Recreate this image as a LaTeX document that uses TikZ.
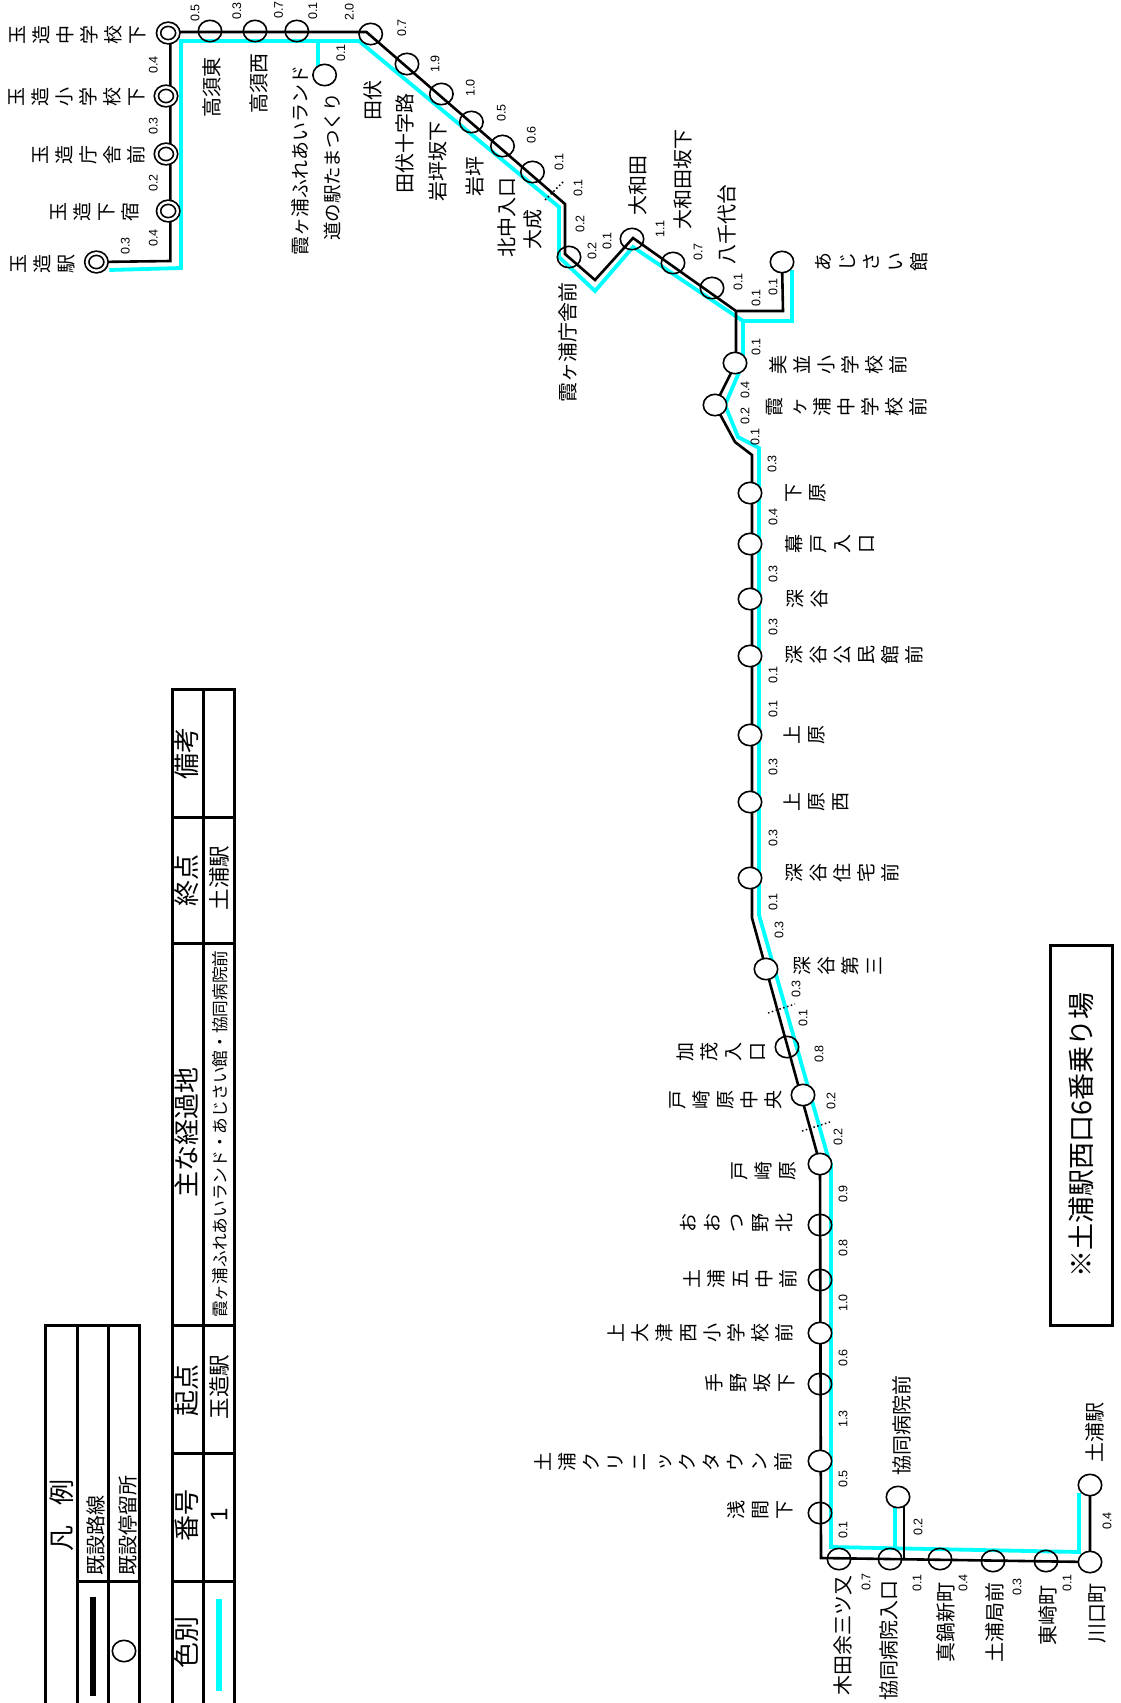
\documentclass[tikz,border=0pt]{standalone}
\usepackage{fontspec}
\setmainfont{Noto Sans CJK JP}
\newfontfamily\numfont{Liberation Sans}
\usetikzlibrary{backgrounds,shapes.geometric}
\definecolor{routecyan}{RGB}{0,255,255}

\begin{document}
\begin{tikzpicture}
[x=1pt, y=-1pt,
stop/.style={ellipse, draw, line width=1.6pt, minimum width=23.4pt, minimum height=21.4pt, inner sep=0pt, outer sep=0pt},
stopw/.style={stop, fill=white},
stopd/.style={ellipse, draw, fill=white, double, line width=1.7pt, double distance=2.4pt, minimum width=19.2pt, minimum height=17.5pt, inner sep=0pt, outer sep=0pt},
stopname/.style={rotate=90, inner sep=0pt, font=\fontsize{20}{22}\selectfont},
widelabel/.style={rotate=90, align=center, inner sep=0pt, font=\fontsize{19}{24}\selectfont},
dist/.style={rotate=90, inner sep=0pt, font=\numfont\fontsize{12.5}{14}\selectfont},
head/.style={rotate=90, inner sep=0pt, font=\fontsize{26}{28}\selectfont},
blackline/.style={line width=2.6pt, line join=miter},
cyanline/.style={line width=3.8pt, color=routecyan, line join=miter},
tick/.style={line width=1.5pt, dash pattern=on 1.5pt off 2.5pt},
rule/.style={line width=3pt, line cap=rect}]
\useasboundingbox (0,0) rectangle (1120,1703);

% stops
\node[stopd] (s1) at (96.4,262) {};
\node[stopd] (s2) at (168.2,211) {};
\node[stopd] (s3) at (166,154) {};
\node[stopd] (s4) at (166,96) {};
\node[stopd] (s5) at (168.2,33) {};
\node[stop] (s6) at (210,31) {};
\node[stop] (s7) at (255,31) {};
\node[stop] (s8) at (296.8,31) {};
\node[stopw] (michi) at (324.6,75) {};
\node[stop] (s9) at (370.7,34) {};
\node[stop] (s10) at (407,64) {};
\node[stop] (s11) at (441.4,94) {};
\node[stop] (s12) at (471.4,122) {};
\node[stop] (s13) at (502.5,146) {};
\node[stop] (s14) at (532.5,172) {};
\node[stop] (s15) at (569,257) {};
\node[stop] (s16) at (632,239) {};
\node[stop] (s17) at (673,263) {};
\node[stop] (s18) at (712,288) {};
\node[stopw] (ajisai) at (782,262) {};
\node[stopw] (s19) at (735,363) {};
\node[stopw] (s20) at (715,405) {};
\node[stopw] (s21) at (750,493) {};
\node[stopw] (s22) at (750,544) {};
\node[stopw] (s23) at (750,599) {};
\node[stopw] (s24) at (750,656) {};
\node[stopw] (s25) at (750,735) {};
\node[stopw] (s26) at (750,802) {};
\node[stopw] (s27) at (750,878) {};
\node[stopw] (s28) at (766,969) {};
\node[stop] (s29) at (787,1047) {};
\node[stopw] (s30) at (803,1095) {};
\node[stopw] (s31) at (820,1164) {};
\node[stop] (s32) at (820,1225) {};
\node[stop] (s33) at (820,1280) {};
\node[stopw] (s34) at (820,1333) {};
\node[stop] (s35) at (820,1384) {};
\node[stopw] (s36) at (820,1461) {};
\node[stop] (s37) at (820,1513) {};
\node[stop] (s38) at (839,1559) {};
\node[stop] (s39) at (890,1559) {};
\node[stopw] (kyodo) at (898,1497) {};
\node[stop] (s40) at (940,1559) {};
\node[stop] (s41) at (993,1561) {};
\node[stop] (s42) at (1046,1561) {};
\node[stopw] (s43) at (1090,1562) {};
\node[stopw] (s44) at (1090,1485) {};

% stop names
\node[widelabel] (n1) at (42.9,264) {玉\\造\\駅};
\node[widelabel] (n2) at (95.4,212) {玉\\造\\下\\宿};
\node[widelabel] (n3) at (88.9,155) {玉\\造\\庁\\舎\\前};
\node[widelabel] (n4) at (77.1,97) {玉\\造\\小\\学\\校\\下};
\node[widelabel] (n5) at (78.2,35) {玉\\造\\中\\学\\校\\下};
\node[stopname] (n6) at (212,87) {高須東};
\node[stopname] (n7) at (259.3,83) {高須西};
\node[stopname, font=\fontsize{19}{22}\selectfont] (n8) at (300,160) {霞ヶ浦ふれあいランド};
\node[stopname, font=\fontsize{18.5}{22}\selectfont] (n9) at (333,167) {道の駅たまつくり};
\node[stopname] (n10) at (373,100) {田伏};
\node[stopname] (n11) at (405,143) {田伏十字路};
\node[stopname] (n12) at (438,161) {岩坪坂下};
\node[stopname] (n13) at (474.6,176) {岩坪};
\node[stopname] (n14) at (506.8,217) {北中入口};
\node[stopname] (n15) at (532.5,229) {大成};
\node[stopname] (n16) at (568,342) {霞ヶ浦庁舎前};
\node[stopname] (n17) at (638,185) {大和田};
\node[stopname] (n18) at (683,179) {大和田坂下};
\node[stopname] (n19) at (727,224) {八千代台};
\node[widelabel] (n20) at (872,262) {あ\\じ\\さ\\い\\館};
\node[widelabel] (n21) at (838,365) {美\\並\\小\\学\\校\\前};
\node[widelabel] (n22) at (847,407) {霞\\ヶ\\浦\\中\\学\\校\\前};
\node[widelabel] (n23) at (806,493) {下\\原};
\node[widelabel] (n24) at (830,544) {幕\\戸\\入\\口};
\node[widelabel] (n25) at (807,599) {深\\谷};
\node[widelabel] (n26) at (854,655) {深\\谷\\公\\民\\館\\前};
\node[widelabel] (n27) at (804,735) {上\\原};
\node[widelabel] (n28) at (816,802) {上\\原\\西};
\node[widelabel] (n29) at (842,873) {深\\谷\\住\\宅\\前};
\node[widelabel] (n30) at (838,966) {深\\谷\\第\\三};
\node[widelabel] (n31) at (721,1052) {加\\茂\\入\\口};
\node[widelabel] (n32) at (726,1100) {戸\\崎\\原\\中\\央};
\node[widelabel] (n33) at (764,1171) {戸\\崎\\原};
\node[widelabel] (n34) at (737,1223) {お\\お\\つ\\野\\北};
\node[widelabel] (n35) at (740,1279) {土\\浦\\五\\中\\前};
\node[widelabel] (n36) at (700,1333) {上\\大\\津\\西\\小\\学\\校\\前};
\node[widelabel] (n37) at (750,1383) {手\\野\\坂\\下};
\node[widelabel] (n38) at (663,1462) {土\\浦\\ク\\リ\\ニ\\ッ\\ク\\タ\\ウ\\ン\\前};
\node[widelabel] (n39) at (760,1510) {浅\\間\\下};
\node[stopname] (n40) at (902,1425) {協同病院前};
\node[stopname] (n41) at (1095,1432) {土浦駅};
\node[stopname] (n42) at (843,1635) {木田余三ツ又};
\node[stopname] (n43) at (889,1640) {協同病院入口};
\node[stopname] (n44) at (946,1622) {真鍋新町};
\node[stopname] (n45) at (995,1622) {土浦局前};
\node[stopname] (n46) at (1048,1615) {東崎町};
\node[stopname] (n47) at (1097,1613) {川口町};

% distances
\node[dist] (d1) at (125.4,246) {0.3};
\node[dist] (d2) at (153.2,238) {0.4};
\node[dist] (d3) at (153.2,183) {0.2};
\node[dist] (d4) at (153.2,126) {0.3};
\node[dist] (d5) at (153.2,65) {0.4};
\node[dist] (d6) at (195,13) {0.5};
\node[dist] (d7) at (236.8,11) {0.3};
\node[dist] (d8) at (278.6,10) {0.7};
\node[dist] (d9) at (312.9,11) {0.1};
\node[dist] (d10) at (349.3,12) {2.0};
\node[dist] (d11) at (340.7,53) {0.1};
\node[dist] (d12) at (401.8,28) {0.7};
\node[dist] (d13) at (435,64) {1.9};
\node[dist] (d14) at (470.3,88) {1.0};
\node[dist] (d15) at (501.4,113) {0.5};
\node[dist] (d16) at (531.4,135) {0.6};
\node[dist] (d17) at (559,162) {0.1};
\node[dist] (d18) at (578,188) {0.1};
\node[dist] (d19) at (580,224) {0.2};
\node[dist] (d20) at (592,251) {0.2};
\node[dist] (d21) at (607,241) {0.1};
\node[dist] (d22) at (660,229) {1.1};
\node[dist] (d23) at (698,252) {0.7};
\node[dist] (d24) at (738,282) {0.1};
\node[dist] (d25) at (756,298) {0.1};
\node[dist] (d26) at (773,287) {0.1};
\node[dist] (d27) at (756,347) {0.1};
\node[dist] (d28) at (745,390) {0.4};
\node[dist] (d29) at (745,416) {0.2};
\node[dist] (d30) at (755,437) {0.1};
\node[dist] (d31) at (772,464) {0.3};
\node[dist] (d32) at (773,517) {0.4};
\node[dist] (d33) at (773,574) {0.3};
\node[dist] (d34) at (773,627) {0.3};
\node[dist] (d35) at (773,675) {0.1};
\node[dist] (d36) at (773,709) {0.1};
\node[dist] (d37) at (773,767) {0.3};
\node[dist] (d38) at (773,838) {0.3};
\node[dist] (d39) at (773,902) {0.1};
\node[dist] (d40) at (779,930) {0.3};
\node[dist] (d41) at (796,989) {0.3};
\node[dist] (d42) at (803,1018) {0.1};
\node[dist] (d43) at (819,1054) {0.8};
\node[dist] (d44) at (831,1101) {0.2};
\node[dist] (d45) at (838,1137) {0.2};
\node[dist] (d46) at (843,1194) {0.9};
\node[dist] (d47) at (843,1248) {0.8};
\node[dist] (d48) at (843,1303) {1.0};
\node[dist] (d49) at (843,1358) {0.6};
\node[dist] (d50) at (843,1419) {1.3};
\node[dist] (d51) at (843,1479) {0.5};
\node[dist] (d52) at (843,1530) {0.1};
\node[dist] (d53) at (918,1527) {0.2};
\node[dist] (d54) at (1107,1521) {0.4};
\node[dist] (d55) at (866,1582) {0.7};
\node[dist] (d56) at (917,1583) {0.1};
\node[dist] (d57) at (963,1583) {0.4};
\node[dist] (d58) at (1017,1587) {0.3};
\node[dist] (d59) at (1067,1583) {0.1};

% bends of the black line
\coordinate (b1) at (170.4,261);
\coordinate (b2) at (170.4,32);
\coordinate (b3) at (366.4,32);
\coordinate (b4) at (565,204);
\coordinate (b5) at (565,254);
\coordinate (b6) at (595,280);
\coordinate (b7) at (633,238);
\coordinate (b8) at (736,311);
\coordinate (b9) at (783,311);
\coordinate (b10) at (736,363);
\coordinate (b11) at (735,442);
\coordinate (b12) at (752,455);
\coordinate (b13) at (752,918);
\coordinate (b14) at (821,1558);
\coordinate (b15) at (904,1559);

% bends of the cyan line
\coordinate (c0) at (109.3,270);
\coordinate (c1) at (181,268);
\coordinate (c2) at (181,41);
\coordinate (c3) at (359,41);
\coordinate (c4) at (559,207);
\coordinate (c5) at (559,257);
\coordinate (c6) at (595,291);
\coordinate (c7) at (633,247);
\coordinate (c8) at (737,317);
\coordinate (c9) at (743,321);
\coordinate (c10) at (792,321);
\coordinate (c11) at (792,270);
\coordinate (c12) at (743,363);
\coordinate (c13) at (725,405);
\coordinate (c14) at (738,437);
\coordinate (c15) at (759,448);
\coordinate (c16) at (759,915);
\coordinate (c17) at (828,1157);
\coordinate (c18) at (831,1164);
\coordinate (c19) at (831,1547);
\coordinate (c20) at (1079,1552);
\coordinate (c21) at (1079,1493);
\coordinate (c22) at (318,41);
\coordinate (c23) at (895,1548);

\begin{scope}[on background layer]
\draw[cyanline] (c0) -- (c1) -- (c2) -- (c3) -- (c4) -- (c5) -- (c6) -- (c7) -- (c8) -- (c9) -- (c10) -- (c11);
\draw[cyanline] (c9) -- (c12) -- (c13) -- (c14) -- (c15) -- (c16) -- (c17) -- (c18) -- (c19) -- (c20) -- (c21);
\draw[cyanline] (c22) -- (michi.center -| c22);
\draw[cyanline] (c23) -- (kyodo.center -| c23);
\draw[blackline] (s1.center) -- (b1) -- (b2) -- (b3) -- (b4) -- (b5) -- (b6) -- (b7) -- (b8) -- (b9) -- (ajisai.center);
\draw[blackline] (b8) -- (b10) -- (s20.center) -- (b11) -- (b12) -- (b13) -- (s31.center) -- (b14) -- (s43.center) -- (s44.center);
\draw[blackline] (b15) -- (kyodo.center -| b15);
\end{scope}

% transfer marks
\coordinate (t1a) at (545,200);
\coordinate (t1b) at (563,182);
\coordinate (t2a) at (768,1013);
\coordinate (t2b) at (795,1004);
\coordinate (t3a) at (802,1131);
\coordinate (t3b) at (830,1122);
\draw[tick] (t1a) -- (t1b);
\draw[tick] (t2a) -- (t2b);
\draw[tick] (t3a) -- (t3b);

% legend
\draw[rule] (45,1703) -- (45,1325) -- (139.5,1325) -- (139.5,1703);
\draw[rule] (77.5,1325) -- (77.5,1703);
\draw[rule] (108.5,1325) -- (108.5,1703);
\draw[rule] (77.5,1581) -- (139.5,1581);
\node[head] (lg) at (62,1515) {凡\hspace{20pt}例};
\node[stopname] (lg1) at (96,1535) {既設路線};
\node[stopname] (lg2) at (128,1525) {既設停留所};
\coordinate (lga) at (93,1597);
\coordinate (lgb) at (93,1696);
\draw[line width=6pt] (lga) -- (lgb);
\node[stop] (lgs) at (124,1651) {};

% route table
\draw[rule] (172,1703) -- (172,689) -- (234.5,689) -- (234.5,1703);
\draw[rule] (203,689) -- (203,1703);
\draw[rule] (172,817) -- (234.5,817);
\draw[rule] (172,943) -- (234.5,943);
\draw[rule] (172,1325) -- (234.5,1325);
\draw[rule] (172,1453) -- (234.5,1453);
\draw[rule] (172,1581) -- (234.5,1581);
\node[head] (h1) at (187,1642) {色別};
\node[head] (h2) at (187,1515) {番号};
\node[head] (h3) at (187,1390) {起点};
\node[head] (h4) at (187,1132) {主な経過地};
\node[head] (h5) at (187,880) {終点};
\node[head] (h6) at (187,753) {備考};
\coordinate (ca) at (219,1599);
\coordinate (cb) at (219,1691);
\draw[line width=6pt, color=routecyan] (ca) -- (cb);
\node[rotate=90, inner sep=0pt, font=\numfont\fontsize{24}{26}\selectfont] (r1) at (219,1515) {1};
\node[rotate=90, inner sep=0pt, font=\fontsize{21.5}{24}\selectfont] (r2) at (219,1387) {玉造駅};
\node[rotate=90, inner sep=0pt, font=\fontsize{16.7}{20}\selectfont] (r3) at (220,1134) {霞ヶ浦ふれあいランド・あじさい館・協同病院前};
\node[rotate=90, inner sep=0pt, font=\fontsize{21.5}{24}\selectfont] (r4) at (219,878) {土浦駅};

% boarding note
\node[rotate=90, draw, line width=3pt, minimum width=380pt, minimum height=62pt, inner sep=0pt, outer sep=0pt, font=\fontsize{27}{30}\selectfont] (note) at (1081,1135) {※土浦駅西口6番乗り場};
\end{tikzpicture}
\end{document}
